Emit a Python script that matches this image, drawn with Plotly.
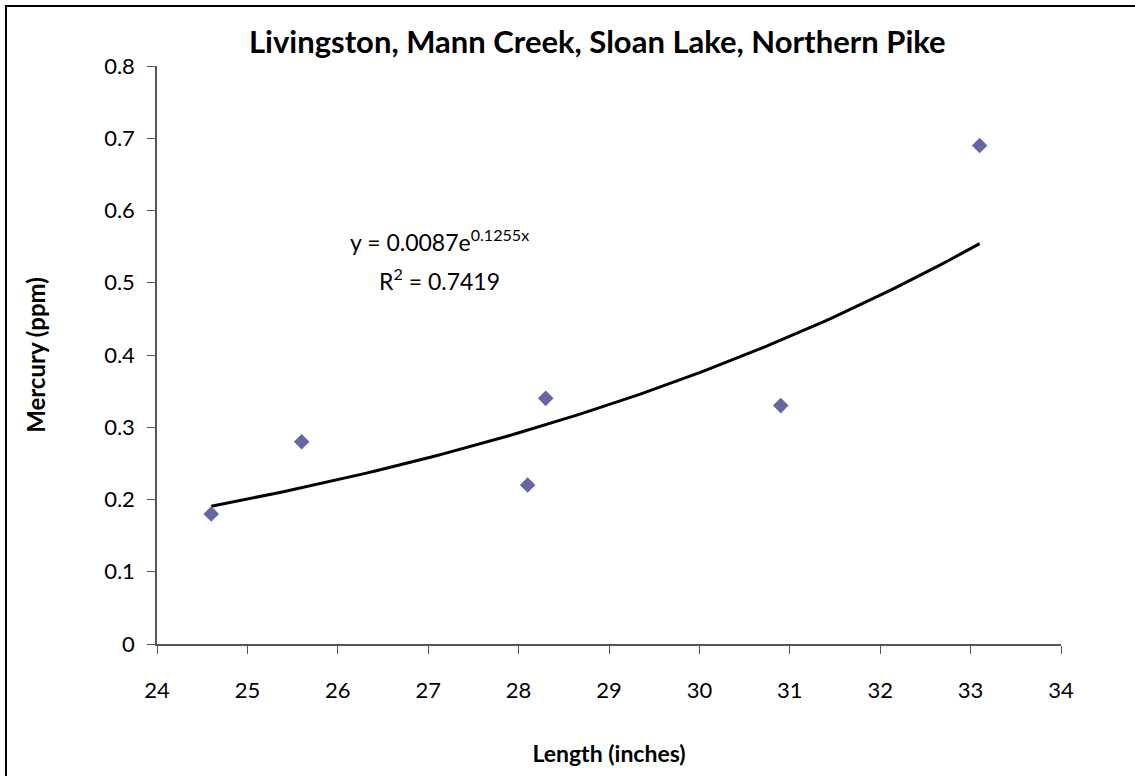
import numpy as np
import plotly.graph_objects as go

# fish length (inches) vs mercury (ppm)
length = [24.6, 25.6, 28.1, 28.3, 30.9, 33.1]
mercury = [0.18, 0.28, 0.22, 0.34, 0.33, 0.69]

# exponential trendline shown on the chart
fit_a = 0.0087
fit_b = 0.1255
r_squared = 0.7419

FONT = "Lato"

trend_x = np.linspace(min(length), max(length), 100)
trend_y = fit_a * np.exp(fit_b * trend_x)

fig = go.Figure()
fig.add_trace(go.Scatter(
    x=trend_x, y=trend_y, mode="lines",
    line=dict(color="black", width=3), hoverinfo="skip",
))
fig.add_trace(go.Scatter(
    x=length, y=mercury, mode="markers",
    marker=dict(symbol="diamond", size=12, color="#6666a3"),
))

fig.update_layout(
    width=1135, height=776,
    margin=dict(l=157, r=74, t=66, b=132),
    paper_bgcolor="white", plot_bgcolor="white",
    showlegend=False,
    font=dict(family=FONT, size=22, color="black"),
)
fig.update_xaxes(
    range=[24, 34], dtick=1, showgrid=False, zeroline=False,
    showline=True, linecolor="#555555", linewidth=1.5,
    ticks="outside", ticklen=8, tickcolor="#555555",
    ticklabelstandoff=18,
    title=dict(text="<b>Length (inches)</b>", font=dict(size=23), standoff=44),
)
fig.update_yaxes(
    range=[0, 0.8], dtick=0.1, showgrid=False, zeroline=False,
    showline=True, linecolor="#555555", linewidth=1.5,
    ticks="outside", ticklen=8, tickcolor="#555555",
    ticklabelstandoff=8,
    title=dict(text="<b>Mercury (ppm)</b>", font=dict(size=24), standoff=52),
)

# title, placed in pixel terms via paper coordinates
fig.add_annotation(
    xref="paper", yref="paper", x=(597 - 157) / 904, y=(644 - 41) / 578,
    yanchor="middle", showarrow=False,
    text="<b>Livingston, Mann Creek, Sloan Lake, Northern Pike</b>",
    font=dict(size=31),
)
fig.add_annotation(
    x=27.13, y=0.558, xref="x", yref="y", showarrow=False,
    text="y = %.4fe<sup>%.4fx</sup>" % (fit_a, fit_b), font=dict(size=23),
)
fig.add_annotation(
    x=27.13, y=0.505, xref="x", yref="y", showarrow=False,
    text="R<sup>2</sup> = %.4f" % r_squared, font=dict(size=23),
)

# chart area border
fig.add_shape(
    type="rect", xref="paper", yref="paper",
    x0=(6 - 157) / 904, x1=1.2, y0=-0.4, y1=(644 - 6) / 578,
    line=dict(color="black", width=2), layer="below",
)

fig.write_html(
    "out.html",
    config={"displayModeBar": False},
    post_script="document.body.style.margin='0';",
)
